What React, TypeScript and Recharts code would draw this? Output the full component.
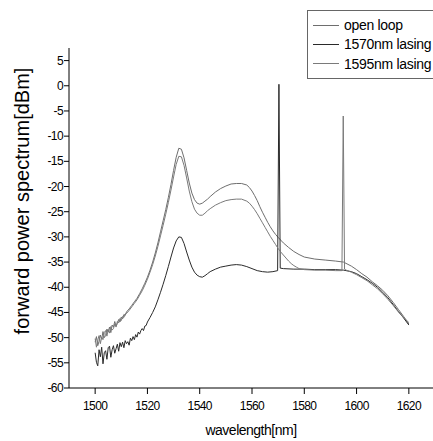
import { Line, LineChart, XAxis, YAxis } from "recharts";

const seriesNames = ["open loop", "1570nm lasing", "1595nm lasing"];
const seriesColors = ["#6e6e6e", "#2a2a2a", "#7a7a7a"];

const xTicks = [1500, 1510, 1520, 1530, 1540, 1550, 1560, 1570, 1580, 1590, 1600, 1610, 1620];
const xMajorStep = 20;
const yTicks = [
  -60, -57.5, -55, -52.5, -50, -47.5, -45, -42.5, -40, -37.5, -35, -32.5, -30, -27.5, -25,
  -22.5, -20, -17.5, -15, -12.5, -10, -7.5, -5, -2.5, 0, 2.5, 5,
];
const yMajorStep = 5;

// [wavelength nm, power dBm]
const openLoop: [number, number][] = [
  [1500, -50.9], [1500.5, -49.8], [1501, -51.6], [1501.5, -50.7], [1502, -49.5], [1502.5, -50.3],
  [1503, -48.8], [1503.5, -50.0], [1504, -49.6], [1504.5, -48.3], [1505, -48.9], [1505.5, -47.9],
  [1506, -49.0], [1506.5, -47.5], [1507, -47.9], [1507.5, -46.8], [1508, -47.7], [1508.5, -47.2],
  [1509, -46.4], [1509.5, -46.9], [1510, -45.9], [1510.5, -46.3], [1511, -45.4], [1511.5, -45.6],
  [1512, -44.9], [1513, -44.3], [1514, -43.6], [1515, -42.9], [1516, -42.2], [1517, -41.3],
  [1518, -40.3], [1519, -39.2], [1520, -38.0], [1521, -36.6], [1522, -35.0], [1523, -33.2],
  [1524, -31.2], [1525, -29.0], [1526, -26.8], [1527, -24.6], [1528, -22.2], [1529, -19.6],
  [1530, -16.8], [1531, -14.2], [1532, -12.4], [1533, -12.6], [1534, -14.3], [1535, -16.8],
  [1536, -19.3], [1537, -21.3], [1538, -22.6], [1539, -23.3], [1540, -23.5], [1541, -23.3],
  [1542, -22.9], [1543, -22.5], [1544, -22.0], [1546, -21.1], [1548, -20.4], [1550, -19.9],
  [1552, -19.5], [1554, -19.4], [1556, -19.4], [1558, -19.7], [1559, -20.2], [1560, -20.9],
  [1561, -21.8], [1562, -22.8], [1563, -24.0], [1564, -25.1], [1565, -26.1], [1566, -27.1],
  [1567, -28.0], [1568, -28.8], [1569, -29.5], [1570, -30.1], [1572, -31.2], [1574, -32.1],
  [1576, -32.9], [1578, -33.5], [1580, -34.0], [1584, -34.4], [1588, -34.6], [1592, -34.8],
  [1595, -35.0], [1598, -35.8], [1600, -36.5], [1602, -37.3], [1604, -38.0], [1606, -38.9],
  [1608, -39.7], [1610, -40.6], [1612, -41.7], [1614, -43.0], [1616, -44.4], [1618, -45.8],
  [1620, -47.3],
];

const lasing1570: [number, number][] = [
  [1500, -53.0], [1500.5, -54.9], [1501, -55.6], [1501.5, -52.4], [1502, -53.8], [1502.5, -51.9],
  [1503, -55.2], [1503.5, -53.0], [1504, -52.6], [1504.5, -54.3], [1505, -52.0], [1505.5, -51.7],
  [1506, -53.9], [1506.5, -52.4], [1507, -51.6], [1507.5, -53.1], [1508, -52.2], [1508.5, -51.3],
  [1509, -52.7], [1509.5, -51.0], [1510, -51.8], [1510.5, -50.9], [1511, -52.0], [1511.5, -50.6],
  [1512, -51.2], [1512.5, -50.8], [1513, -51.5], [1513.5, -50.1], [1514, -50.6], [1514.5, -49.8],
  [1515, -50.4], [1515.5, -49.4], [1516, -49.9], [1516.5, -48.9], [1517, -49.3], [1517.5, -48.6],
  [1518, -48.2], [1518.5, -48.6], [1519, -47.7], [1519.5, -47.6], [1520, -46.9], [1521, -46.0],
  [1522, -45.0], [1523, -43.9], [1524, -42.5], [1525, -41.0], [1526, -39.4], [1527, -37.7],
  [1528, -35.9], [1529, -34.0], [1530, -32.2], [1531, -30.8], [1532, -30.0], [1533, -30.1],
  [1534, -31.3], [1535, -33.0], [1536, -34.6], [1537, -36.0], [1538, -37.0], [1539, -37.6],
  [1540, -37.9], [1541, -38.0], [1542, -37.7], [1543, -37.3], [1544, -36.9], [1546, -36.4],
  [1548, -36.0], [1550, -35.8], [1552, -35.6], [1554, -35.5], [1556, -35.6], [1558, -35.9],
  [1560, -36.3], [1562, -36.7], [1564, -36.9], [1566, -37.0], [1568, -36.9], [1569.8, -36.7],
  [1570.3, 0.3], [1570.8, -36.2], [1572, -36.3], [1576, -36.4], [1580, -36.4], [1584, -36.5],
  [1588, -36.5], [1592, -36.5], [1595, -36.6], [1598, -36.9], [1600, -37.3], [1602, -37.9],
  [1604, -38.5], [1606, -39.2], [1608, -40.0], [1610, -41.0], [1612, -42.1], [1614, -43.4],
  [1616, -44.8], [1618, -46.1], [1620, -47.5],
];

const lasing1595: [number, number][] = [
  [1500, -50.2], [1500.5, -51.9], [1501, -50.5], [1501.5, -49.6], [1502, -51.2], [1502.5, -49.9],
  [1503, -50.4], [1503.5, -49.0], [1504, -48.6], [1504.5, -49.7], [1505, -48.4], [1505.5, -49.1],
  [1506, -47.8], [1506.5, -48.5], [1507, -48.2], [1507.5, -47.3], [1508, -47.9], [1508.5, -46.8],
  [1509, -47.1], [1509.5, -46.2], [1510, -46.6], [1510.5, -45.8], [1511, -46.0], [1511.5, -45.3],
  [1512, -45.2], [1513, -44.6], [1514, -43.9], [1515, -43.2], [1516, -42.5], [1517, -41.6],
  [1518, -40.7], [1519, -39.6], [1520, -38.4], [1521, -37.0], [1522, -35.5], [1523, -33.8],
  [1524, -31.9], [1525, -29.8], [1526, -27.7], [1527, -25.5], [1528, -23.2], [1529, -20.7],
  [1530, -18.1], [1531, -15.6], [1532, -14.0], [1533, -14.1], [1534, -15.8], [1535, -18.3],
  [1536, -20.9], [1537, -23.0], [1538, -24.5], [1539, -25.3], [1540, -25.7], [1541, -25.7],
  [1542, -25.3], [1543, -24.8], [1544, -24.4], [1546, -23.7], [1548, -23.2], [1550, -22.8],
  [1552, -22.6], [1554, -22.5], [1556, -22.5], [1558, -22.9], [1559, -23.3], [1560, -23.9],
  [1561, -24.6], [1562, -25.4], [1563, -26.3], [1564, -27.2], [1565, -28.1], [1566, -29.0],
  [1567, -29.9], [1568, -30.7], [1569, -31.5], [1570, -32.3], [1571, -33.0], [1572, -33.6],
  [1573, -34.2], [1574, -34.8], [1575, -35.3], [1576, -35.7], [1577, -36.0], [1578, -36.3],
  [1580, -36.5], [1584, -36.6], [1588, -36.6], [1592, -36.7], [1594.4, -36.7], [1594.9, -6.0],
  [1595.4, -36.4], [1596, -36.6], [1598, -37.0], [1600, -37.5], [1602, -38.1], [1604, -38.7],
  [1606, -39.5], [1608, -40.3], [1610, -41.3], [1612, -42.4], [1614, -43.6], [1616, -44.9],
  [1618, -46.0], [1620, -47.0],
];

const seriesData = [openLoop, lasing1570, lasing1595].map((s) =>
  s.map(([wl, db]) => ({ wl, db }))
);

const font = "'Liberation Sans', Arial, sans-serif";

function XTick({ x, y, payload }: { x?: number; y?: number; payload?: { value: number } }) {
  const v = payload?.value ?? 0;
  const major = v % xMajorStep === 0;
  return (
    <g>
      <line x1={x} x2={x} y1={y} y2={(y ?? 0) + (major ? 6 : 3)} stroke="#000" />
      {major && (
        <text x={x} y={(y ?? 0) + 22} textAnchor="middle" fontSize={12} letterSpacing={-0.6} fill="#000" fontFamily={font}>
          {v}
        </text>
      )}
    </g>
  );
}

function YTick({ x, y, payload }: { x?: number; y?: number; payload?: { value: number } }) {
  const v = payload?.value ?? 0;
  const major = v % yMajorStep === 0;
  return (
    <g>
      <line x1={(x ?? 0) - (major ? 5 : 3)} x2={x} y1={y} y2={y} stroke="#000" />
      {major && (
        <text x={(x ?? 0) - 6} y={(y ?? 0) + 4} textAnchor="end" fontSize={12} letterSpacing={-0.6} fill="#000" fontFamily={font}>
          {v}
        </text>
      )}
    </g>
  );
}

function YTitle() {
  return (
    <text x={29} y={201} transform="rotate(-90 29 201)" textAnchor="middle" fontSize={20} fill="#000" fontFamily={font}>
      forward power spectrum[dBm]
    </text>
  );
}

function XTitle() {
  return (
    <text x={251} y={435} textAnchor="middle" fontSize={14} letterSpacing={-0.5} fill="#000" fontFamily={font}>
      wavelength[nm]
    </text>
  );
}

export default function App() {
  return (
    <div style={{ position: "fixed", left: 0, top: 0, width: 433, height: 441, overflow: "hidden", background: "#fff" }}>
      <LineChart width={440} height={441} margin={{ top: 48, right: 5, bottom: 0, left: 0 }}>
        <XAxis
          type="number"
          dataKey="wl"
          domain={[1490, 1630]}
          ticks={xTicks}
          tick={<XTick />}
          tickLine={false}
          tickSize={0}
          tickMargin={0}
          height={53}
          axisLine={{ stroke: "#000" }}
          label={<XTitle />}
        />
        <YAxis
          type="number"
          dataKey="db"
          domain={[-60, 7.5]}
          allowDataOverflow
          ticks={yTicks}
          tick={<YTick />}
          tickLine={false}
          tickSize={0}
          tickMargin={0}
          width={69}
          axisLine={{ stroke: "#000" }}
          label={<YTitle />}
        />
        {seriesData.map((d, i) => (
          <Line
            key={seriesNames[i]}
            data={d}
            dataKey="db"
            name={seriesNames[i]}
            type="linear"
            stroke={seriesColors[i]}
            strokeWidth={1}
            dot={false}
            activeDot={false}
            isAnimationActive={false}
          />
        ))}
      </LineChart>
      <div
        style={{
          position: "absolute",
          left: 307,
          top: 10,
          width: 140,
          height: 67,
          border: "1px solid #666",
          background: "#fff",
          fontFamily: font,
          fontSize: 14,
          color: "#000",
        }}
      >
        {seriesNames.map((n, i) => (
          <div key={n} style={{ position: "absolute", left: 5, top: [14, 33, 52.5][i] - 9, height: 18, display: "flex", alignItems: "center", whiteSpace: "nowrap" }}>
            <span style={{ display: "inline-block", width: 26, height: 0, borderTop: `1px solid ${seriesColors[i]}`, marginRight: 5 }} />
            <span style={{ letterSpacing: -0.3 }}>{n}</span>
          </div>
        ))}
      </div>
    </div>
  );
}
